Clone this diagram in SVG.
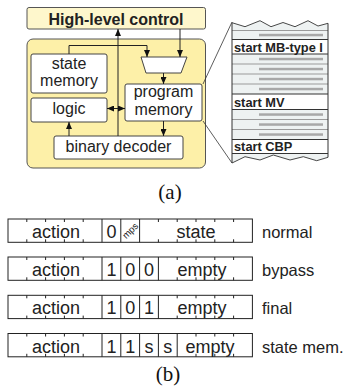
<svg xmlns="http://www.w3.org/2000/svg" width="349" height="390" viewBox="0 0 349 390">
  <style>
    .sans { font-family: "Liberation Sans", Arial, sans-serif; fill: #222; }
    .blk { font-size: 16px; text-anchor: middle; }
    .title { font-size: 16px; font-weight: bold; text-anchor: middle; }
    .box { fill: #ffffff; stroke: #444; stroke-width: 1; }
    .wire { fill: none; stroke: #222; stroke-width: 1; }
    .callout { fill: none; stroke: #333; stroke-width: 0.8; }
    .mem { font-size: 12.8px; font-weight: bold; }
    .sep-lt { stroke: #9a9a9a; stroke-width: 1; }
    .sep-dk { stroke: #333; stroke-width: 1; }
    .bar { fill: #a8a8a8; }
    .cap { font-family: "Liberation Serif", "Times New Roman", serif; font-size: 21px; text-anchor: middle; fill: #111; }
    .cell { fill: #fff; stroke: #222; stroke-width: 1; }
    .div { stroke: #222; stroke-width: 1; }
    .tick { stroke: #222; stroke-width: 1; }
    .fld { font-size: 18px; text-anchor: middle; }
    .lbl { font-size: 16.5px; }
  </style>
  <defs>
    <marker id="arrow" viewBox="0 0 7 6" refX="7" refY="3" markerWidth="7" markerHeight="6" markerUnits="userSpaceOnUse" orient="auto-start-reverse">
      <path d="M0,0 L7,3 L0,6 Z" fill="#111"/>
    </marker>
  </defs>

  <!-- (a) controller block diagram -->
  <g id="container">
    <rect x="27" y="39" width="178.5" height="129" rx="6" fill="#fdf0a8" stroke="#555" stroke-width="1"/>
  </g>
  <g id="high-level-control">
    <rect x="27" y="7.5" width="178.5" height="21.5" rx="2" fill="#fef7cc" stroke="#555" stroke-width="1"/>
    <text class="sans title" x="116" y="24.5">High-level control</text>
  </g>
  <g id="state-memory">
    <rect class="box" x="31" y="54" width="76" height="39" rx="2"/>
    <text class="sans blk" x="69" y="68.5">state</text>
    <text class="sans blk" x="69" y="86">memory</text>
  </g>
  <g id="logic">
    <rect class="box" x="31" y="98" width="76" height="24" rx="2"/>
    <text class="sans blk" x="69" y="113.5">logic</text>
  </g>
  <g id="mux">
    <polygon class="box" points="141,57 187,57 181,73 146,73"/>
  </g>
  <g id="program-memory">
    <rect class="box" x="125" y="84" width="77" height="37" rx="2"/>
    <text class="sans blk" x="163.5" y="97">program</text>
    <text class="sans blk" x="163.5" y="114.5">memory</text>
  </g>
  <g id="binary-decoder">
    <rect class="box" x="54" y="136" width="129" height="23" rx="2"/>
    <text class="sans blk" x="118.5" y="151.5">binary decoder</text>
  </g>

  <g id="connectors">
    <line class="wire" x1="180" y1="29" x2="180" y2="57" marker-end="url(#arrow)"/>
    <polyline class="wire" points="69,54 69,45.5 147,45.5 147,57" marker-end="url(#arrow)"/>
    <line class="wire" x1="163.5" y1="73" x2="163.5" y2="84" marker-end="url(#arrow)"/>
    <line class="wire" x1="163.5" y1="121" x2="163.5" y2="136" marker-end="url(#arrow)"/>
    <line class="wire" x1="69" y1="136" x2="69" y2="122" marker-end="url(#arrow)"/>
    <line class="wire" x1="118" y1="136" x2="118" y2="29" marker-end="url(#arrow)"/>
    <line class="wire" x1="107" y1="108.5" x2="125" y2="108.5" marker-start="url(#arrow)" marker-end="url(#arrow)"/>
  </g>

  <!-- magnified excerpt of the program memory -->
  <g id="callout">
    <line class="callout" x1="203" y1="84" x2="232" y2="22"/>
    <line class="callout" x1="203" y1="121" x2="232" y2="163"/>
  </g>
  <g id="memory-excerpt">
    <path d="M232,22.7 L245,26.7 L260,20.7 L271,26.7 L283,22.5 L295,26.7 L308,20.7 L318,26 L328,23.3 L328,157.3 L316.7,160.7 L303.3,156.7 L290,160 L273.3,155 L260,160 L245,156.7 L232,163 Z" fill="#eef2f2"/>
    <rect x="232" y="39.5" width="96" height="14.5" fill="#fff"/>
    <rect x="232" y="94" width="96" height="15.5" fill="#fff"/>
    <rect x="232" y="139.5" width="96" height="14" fill="#fff"/>
    <g>
      <line class="sep-lt" x1="232" y1="30.5" x2="328" y2="30.5"/>
      <line class="sep-lt" x1="232" y1="64" x2="328" y2="64"/>
      <line class="sep-lt" x1="232" y1="74" x2="328" y2="74"/>
      <line class="sep-lt" x1="232" y1="84" x2="328" y2="84"/>
      <line class="sep-lt" x1="232" y1="119.5" x2="328" y2="119.5"/>
      <line class="sep-lt" x1="232" y1="129.5" x2="328" y2="129.5"/>
      <line class="sep-dk" x1="232" y1="39.5" x2="328" y2="39.5"/>
      <line class="sep-dk" x1="232" y1="54" x2="328" y2="54"/>
      <line class="sep-dk" x1="232" y1="94" x2="328" y2="94"/>
      <line class="sep-dk" x1="232" y1="109.5" x2="328" y2="109.5"/>
      <line class="sep-dk" x1="232" y1="139.5" x2="328" y2="139.5"/>
      <line class="sep-dk" x1="232" y1="153.5" x2="328" y2="153.5"/>
    </g>
    <g>
      <rect class="bar" x="259" y="33.8" width="64" height="2.5"/>
      <rect class="bar" x="259" y="57.8" width="64" height="2.5"/>
      <rect class="bar" x="259" y="67.8" width="64" height="2.5"/>
      <rect class="bar" x="259" y="77.8" width="64" height="2.5"/>
      <rect class="bar" x="259" y="87.8" width="64" height="2.5"/>
      <rect class="bar" x="259" y="113.3" width="64" height="2.5"/>
      <rect class="bar" x="259" y="123.3" width="64" height="2.5"/>
      <rect class="bar" x="259" y="133.3" width="64" height="2.5"/>
    </g>
    <polyline fill="none" stroke="#333" stroke-width="0.9" points="232,22.7 245,26.7 260,20.7 271,26.7 283,22.5 295,26.7 308,20.7 318,26 328,23.3"/>
    <polyline fill="none" stroke="#333" stroke-width="0.9" points="232,163 245,156.7 260,160 273.3,155 290,160 303.3,156.7 316.7,160.7 328,157.3"/>
    <line class="sep-dk" x1="232" y1="22.7" x2="232" y2="163"/>
    <line class="sep-dk" x1="328" y1="23.3" x2="328" y2="157.3"/>
    <text class="sans mem" x="234" y="52">start MB-type I</text>
    <text class="sans mem" x="234" y="106.5">start MV</text>
    <text class="sans mem" x="234" y="151">start CBP</text>
  </g>

  <text class="cap" x="170" y="199">(a)</text>

  <!-- (b) instruction word formats -->
  <g id="fmt-normal">
    <rect class="cell" x="8" y="219" width="244.4" height="23.3"/>
    <line class="div" x1="102" y1="219" x2="102" y2="242.3"/>
    <line class="div" x1="120.8" y1="219" x2="120.8" y2="242.3"/>
    <line class="div" x1="139.6" y1="219" x2="139.6" y2="242.3"/>
    <path class="tick" d="M26.8,219v3M45.6,219v3M64.4,219v3M83.2,219v3M26.8,242.3v-3M45.6,242.3v-3M64.4,242.3v-3M83.2,242.3v-3M158.4,219v3M177.2,219v3M196,219v3M214.8,219v3M233.6,219v3M158.4,242.3v-3M177.2,242.3v-3M196,242.3v-3M214.8,242.3v-3M233.6,242.3v-3"/>
    <text class="sans fld" x="56" y="238">action</text>
    <text class="sans fld" x="111.4" y="238">0</text>
    <text class="sans" font-size="9.5" text-anchor="middle" transform="translate(130.2,230.6) rotate(-45)" y="3.3">mps</text>
    <text class="sans fld" x="196" y="238">state</text>
    <text class="sans lbl" x="262" y="238">normal</text>
  </g>
  <g id="fmt-bypass">
    <rect class="cell" x="8" y="257" width="244.4" height="23.3"/>
    <line class="div" x1="102" y1="257" x2="102" y2="280.3"/>
    <line class="div" x1="120.8" y1="257" x2="120.8" y2="280.3"/>
    <line class="div" x1="139.6" y1="257" x2="139.6" y2="280.3"/>
    <line class="div" x1="158.4" y1="257" x2="158.4" y2="280.3"/>
    <path class="tick" d="M26.8,257v3M45.6,257v3M64.4,257v3M83.2,257v3M26.8,280.3v-3M45.6,280.3v-3M64.4,280.3v-3M83.2,280.3v-3M177.2,257v3M196,257v3M214.8,257v3M233.6,257v3M177.2,280.3v-3M196,280.3v-3M214.8,280.3v-3M233.6,280.3v-3"/>
    <text class="sans fld" x="56" y="276">action</text>
    <text class="sans fld" x="111.4" y="276">1</text>
    <text class="sans fld" x="130.2" y="276">0</text>
    <text class="sans fld" x="149" y="276">0</text>
    <text class="sans fld" x="202" y="276">empty</text>
    <text class="sans lbl" x="262" y="276">bypass</text>
  </g>
  <g id="fmt-final">
    <rect class="cell" x="8" y="295.3" width="244.4" height="23.3"/>
    <line class="div" x1="102" y1="295.3" x2="102" y2="318.6"/>
    <line class="div" x1="120.8" y1="295.3" x2="120.8" y2="318.6"/>
    <line class="div" x1="139.6" y1="295.3" x2="139.6" y2="318.6"/>
    <line class="div" x1="158.4" y1="295.3" x2="158.4" y2="318.6"/>
    <path class="tick" d="M26.8,295.3v3M45.6,295.3v3M64.4,295.3v3M83.2,295.3v3M26.8,318.6v-3M45.6,318.6v-3M64.4,318.6v-3M83.2,318.6v-3M177.2,295.3v3M196,295.3v3M214.8,295.3v3M233.6,295.3v3M177.2,318.6v-3M196,318.6v-3M214.8,318.6v-3M233.6,318.6v-3"/>
    <text class="sans fld" x="56" y="314.3">action</text>
    <text class="sans fld" x="111.4" y="314.3">1</text>
    <text class="sans fld" x="130.2" y="314.3">0</text>
    <text class="sans fld" x="149" y="314.3">1</text>
    <text class="sans fld" x="202" y="314.3">empty</text>
    <text class="sans lbl" x="262" y="314.3">final</text>
  </g>
  <g id="fmt-state-mem">
    <rect class="cell" x="8" y="333.5" width="244.4" height="23.3"/>
    <line class="div" x1="102" y1="333.5" x2="102" y2="356.8"/>
    <line class="div" x1="120.8" y1="333.5" x2="120.8" y2="356.8"/>
    <line class="div" x1="139.6" y1="333.5" x2="139.6" y2="356.8"/>
    <line class="div" x1="158.4" y1="333.5" x2="158.4" y2="356.8"/>
    <line class="div" x1="177.2" y1="333.5" x2="177.2" y2="356.8"/>
    <path class="tick" d="M26.8,333.5v3M45.6,333.5v3M64.4,333.5v3M83.2,333.5v3M26.8,356.8v-3M45.6,356.8v-3M64.4,356.8v-3M83.2,356.8v-3M196,333.5v3M214.8,333.5v3M233.6,333.5v3M196,356.8v-3M214.8,356.8v-3M233.6,356.8v-3"/>
    <text class="sans fld" x="56" y="352.5">action</text>
    <text class="sans fld" x="111.4" y="352.5">1</text>
    <text class="sans fld" x="130.2" y="352.5">1</text>
    <text class="sans fld" x="149" y="352.5">s</text>
    <text class="sans fld" x="167.8" y="352.5">s</text>
    <text class="sans fld" x="210" y="352.5">empty</text>
    <text class="sans lbl" x="262" y="352.5">state mem.</text>
  </g>

  <text class="cap" x="168" y="381">(b)</text>
</svg>
